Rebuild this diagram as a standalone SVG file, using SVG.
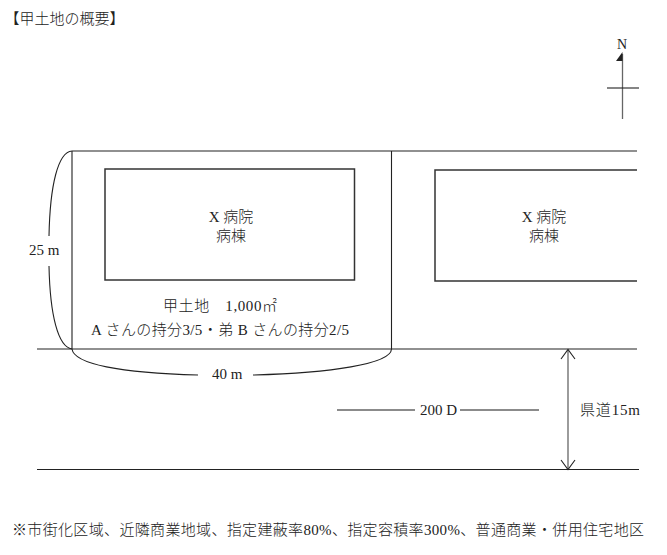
<svg xmlns="http://www.w3.org/2000/svg" width="667" height="555" viewBox="0 0 667 555">
<style>
text{font-family:"Liberation Serif","Noto Sans CJK JP",serif;font-size:15px;fill:#222;font-weight:300}
.l{fill:none;stroke:#222;stroke-width:1.1}
.b{fill:#fff;stroke:#333;stroke-width:1.5}
.g{fill:none;stroke:#666;stroke-width:1.3}
.m{text-anchor:middle}
</style>
<rect width="667" height="555" fill="#fff"/>
<text x="4.500" y="24">【甲土地の概要】</text>
<g id="connectors">
<path class="l" d="M72 151H637M72 151V349M391.500 151V349M37 349H637M37 469.500H639"/>
<path class="l" d="M72 151C58 152 50 185 49 236M49 266C50 315 58 347 72 349"/>
<path class="l" d="M72 349C74 364 120 373 198 375M253 375C330 373 391 364 391.500 349"/>
<path class="g" d="M337 410H415M460 410H539"/>
<path class="g" d="M568 350V469"/>
<path class="l" d="M561 359L568 349.500L575 359M561 460L568 469.500L575 460"/>
<path class="g" d="M622.500 54V119"/>
<path class="l" d="M607 88H639"/>
<path d="M622.500 52V61H616Z" fill="#222"/>
</g>
<g id="north"><text x="622" y="49" class="m" style="font-size:14px">N</text></g>
<g id="building-x">
<rect class="b" x="105" y="169" width="249.500" height="111"/>
<text x="231" y="222" class="m">X 病院</text>
<text x="231" y="241" class="m">病棟</text>
</g>
<g id="building-neighbor">
<path class="b" d="M637 170H435V281H637"/>
<text x="544" y="222" class="m">X 病院</text>
<text x="544" y="241" class="m">病棟</text>
</g>
<g id="lot-a">
<text x="163" y="311" textLength="114" lengthAdjust="spacing">甲土地　1,000㎡</text>
<text x="91" y="335" textLength="258" lengthAdjust="spacing">A さんの持分3/5・弟 B さんの持分2/5</text>
</g>
<g id="labels">
<text x="29" y="255">25 m</text>
<text x="212" y="379">40 m</text>
<text x="420" y="415">200 D</text>
<text x="580" y="415" textLength="60" lengthAdjust="spacing">県道15m</text>
</g>
<text x="12" y="535" textLength="632" lengthAdjust="spacing">※市街化区域、近隣商業地域、指定建蔽率80%、指定容積率300%、普通商業・併用住宅地区</text>
</svg>
